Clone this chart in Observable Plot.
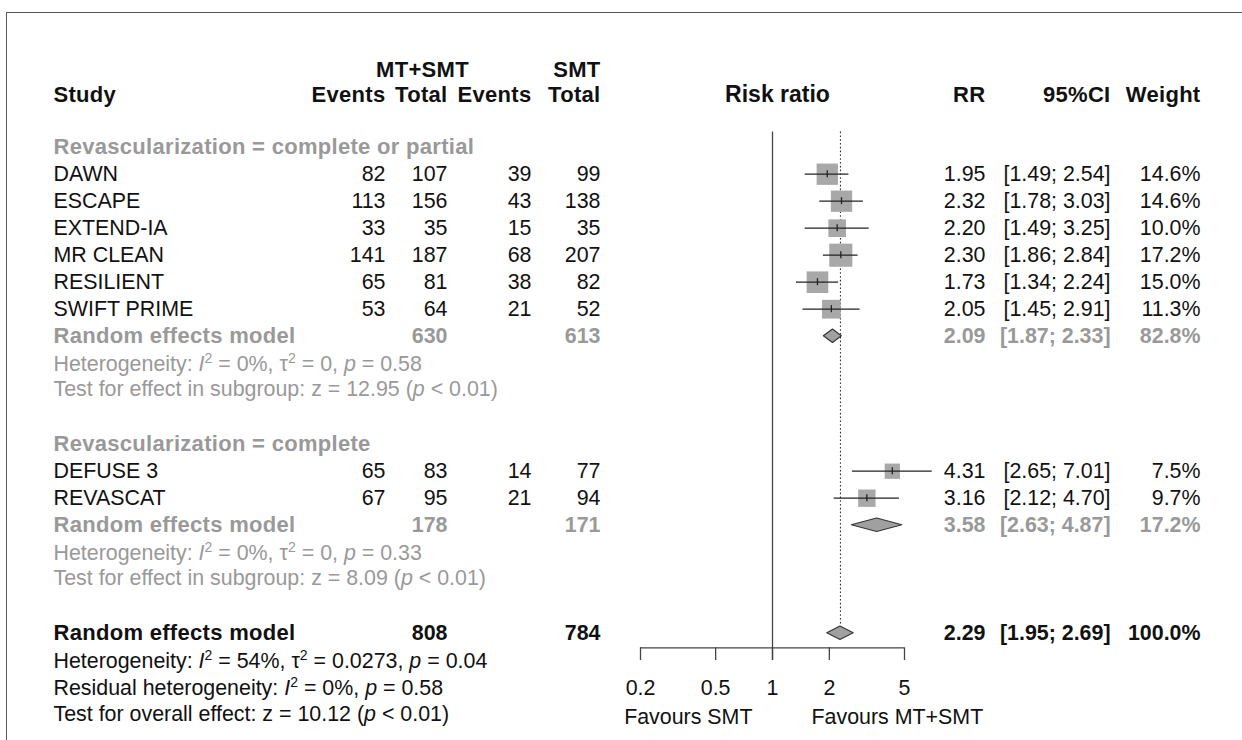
<!DOCTYPE html>
<html>
<head>
<meta charset="utf-8">
<script src="https://cdn.jsdelivr.net/npm/d3@7"></script>
<script src="https://cdn.jsdelivr.net/npm/@observablehq/plot@0.6"></script>
<style>
  html, body { margin: 0; padding: 0; background: #fff; }
  #chart { position: relative; width: 1242px; height: 740px; overflow: hidden; background: #fff; }
  #chart svg { position: absolute; left: 0; top: 0; }
  #chart g[font-weight="bold"][font-size="22"] text { letter-spacing: 0.3px; }
  #chart .box { position: absolute; left: 6px; top: 12px; right: -10px; bottom: -10px;
    border-left: 1.5px solid #5a5a5a; border-top: 1.5px solid #5a5a5a; pointer-events: none; }
</style>
</head>
<body>
<div id="chart"><div class="box"></div></div>
<script>
// ---- Study-level data ----
const studyNames = ["DAWN", "ESCAPE", "EXTEND-IA", "MR CLEAN", "RESILIENT", "SWIFT PRIME", "DEFUSE 3", "REVASCAT"];
const studyGroup = [0, 0, 0, 0, 0, 0, 1, 1];
const eventsMT = [82, 113, 33, 141, 65, 53, 65, 67];
const totalMT = [107, 156, 35, 187, 81, 64, 83, 95];
const eventsSMT = [39, 43, 15, 68, 38, 21, 14, 21];
const totalSMT = [99, 138, 35, 207, 82, 52, 77, 94];
const riskRatio = [1.95, 2.32, 2.20, 2.30, 1.73, 2.05, 4.31, 3.16];
const ciLower = [1.49, 1.78, 1.49, 1.86, 1.34, 1.45, 2.65, 2.12];
const ciUpper = [2.54, 3.03, 3.25, 2.84, 2.24, 2.91, 7.01, 4.70];
const weightPct = [14.6, 14.6, 10.0, 17.2, 15.0, 11.3, 7.5, 9.7];

// ---- Subgroup pooled estimates ----
const subgroupLabels = ["Revascularization = complete or partial", "Revascularization = complete"];
const subgroupTotalMT = [630, 178];
const subgroupTotalSMT = [613, 171];
const subgroupRR = [2.09, 3.58];
const subgroupLower = [1.87, 2.63];
const subgroupUpper = [2.33, 4.87];
const subgroupWeight = [82.8, 17.2];
const subgroupStats = [
  ["Heterogeneity: {I}^2 = 0%, τ^2 = 0, {p} = 0.58", "Test for effect in subgroup: z = 12.95 ({p} < 0.01)"],
  ["Heterogeneity: {I}^2 = 0%, τ^2 = 0, {p} = 0.33", "Test for effect in subgroup: z = 8.09 ({p} < 0.01)"]
];

// ---- Overall pooled estimate ----
const overallTotalMT = 808;
const overallTotalSMT = 784;
const overallRR = 2.29;
const overallLower = 1.95;
const overallUpper = 2.69;
const overallWeight = 100.0;
const overallStats = [
  "Heterogeneity: {I}^2 = 54%, τ^2 = 0.0273, {p} = 0.04",
  "Residual heterogeneity: {I}^2 = 0%, {p} = 0.58",
  "Test for overall effect: z = 10.12 ({p} < 0.01)"
];

// ---- Axis and labels ----
const axisTicks = [0.2, 0.5, 1, 2, 5];
const favoursLabels = ["Favours SMT", "Favours MT+SMT"];
const pooledLabel = "Random effects model";

// ---- Layout (rows are 27 px apart; row 0 is the first subgroup heading) ----
const ROW0 = 146.7, ROWH = 27, H = 740, W = 1242;
const col = {study: 53, evMT: 385, totMT: 447, evSMT: 531, totSMT: 600, rr: 985, ci: 1110, w: 1200};
const FS = 21.4, FSB = 22;
const GREY = "#999999", BLACK = "#111111";
const font = "'Liberation Sans', Arial, Helvetica, sans-serif";

const fmtRR = v => v.toFixed(2);
const fmtCI = (a, b) => `[${a.toFixed(2)}; ${b.toFixed(2)}]`;
const fmtW = v => `${v.toFixed(1)}%`;

const groupRows = [], studyRows = [], pooledRows = [], statRows = [];
let row = 0;
subgroupLabels.forEach((label, g) => {
  groupRows.push({row, label});
  row++;
  studyNames.forEach((name, i) => {
    if (studyGroup[i] !== g) return;
    studyRows.push({
      row, name, evMT: String(eventsMT[i]), totMT: String(totalMT[i]),
      evSMT: String(eventsSMT[i]), totSMT: String(totalSMT[i]),
      est: riskRatio[i], lo: ciLower[i], hi: ciUpper[i], weight: weightPct[i],
      rr: fmtRR(riskRatio[i]), ci: fmtCI(ciLower[i], ciUpper[i]), w: fmtW(weightPct[i])
    });
    row++;
  });
  pooledRows.push({
    row, group: g, name: pooledLabel, totMT: String(subgroupTotalMT[g]), totSMT: String(subgroupTotalSMT[g]),
    est: subgroupRR[g], lo: subgroupLower[g], hi: subgroupUpper[g],
    rr: fmtRR(subgroupRR[g]), ci: fmtCI(subgroupLower[g], subgroupUpper[g]), w: fmtW(subgroupWeight[g])
  });
  statRows.push({row: row + 1.05, text: subgroupStats[g][0], group: g});
  statRows.push({row: row + 1.95, text: subgroupStats[g][1], group: g});
  row += 4;
});
const overallRow = row;
pooledRows.push({
  row: overallRow, group: -1, name: pooledLabel, totMT: String(overallTotalMT), totSMT: String(overallTotalSMT),
  est: overallRR, lo: overallLower, hi: overallUpper,
  rr: fmtRR(overallRR), ci: fmtCI(overallLower, overallUpper), w: fmtW(overallWeight)
});
overallStats.forEach((text, k) => statRows.push({row: overallRow + [1.05, 2.05, 3.0][k], text, group: -1}));

const headerTopRow = -2.85, headerRow = -1.95;
const plotTopRow = -0.56;
const axisRow = 18.54, tickEndRow = 19.01, tickLabelRow = 20.04, favoursRow = 21.1;
const diamondHalf = 0.25;

// Diamond outlines for pooled estimates
const diamonds = pooledRows.flatMap((p, k) => [
  {id: k, y: p.row - diamondHalf, x1: p.est, x2: p.est},
  {id: k, y: p.row, x1: p.lo, x2: p.hi},
  {id: k, y: p.row + diamondHalf, x1: p.est, x2: p.est}
]);

// Left-anchored text column helper (dx is the pixel position of the column)
const column = (data, field, dx, anchor, extra = {}) =>
  Plot.text(data, {y: "row", text: field, frameAnchor: "left", dx, textAnchor: anchor,
    lineAnchor: "middle", fontSize: extra.fontWeight === "bold" ? FSB : FS, fill: BLACK, ...extra});

const subPooled = pooledRows.filter(d => d.group >= 0);
const allPooled = pooledRows.filter(d => d.group < 0);
const headers1 = [{row: headerTopRow}];
const headers2 = [{row: headerRow}];
const bold = {fontWeight: "bold"};

const tableMarks = [
  // headings
  column(headers1, () => "MT+SMT", 422, "middle", bold),
  column(headers1, () => "SMT", col.totSMT, "end", bold),
  column(headers2, () => "Study", col.study, "start", bold),
  column(headers2, () => "Events", col.evMT, "end", bold),
  column(headers2, () => "Total", col.totMT, "end", bold),
  column(headers2, () => "Events", col.evSMT, "end", bold),
  column(headers2, () => "Total", col.totSMT, "end", bold),
  column(headers2, () => "RR", col.rr, "end", bold),
  column(headers2, () => "95%CI", col.ci, "end", bold),
  column(headers2, () => "Weight", col.w, "end", bold),
  // subgroup headings
  column(groupRows, "label", col.study, "start", {fontWeight: "bold", fill: GREY}),
  // studies
  column(studyRows, "name", col.study, "start"),
  column(studyRows, "evMT", col.evMT, "end"),
  column(studyRows, "totMT", col.totMT, "end"),
  column(studyRows, "evSMT", col.evSMT, "end"),
  column(studyRows, "totSMT", col.totSMT, "end"),
  column(studyRows, "rr", col.rr, "end"),
  column(studyRows, "ci", col.ci, "end"),
  column(studyRows, "w", col.w, "end"),
];
for (const [data, fill] of [[subPooled, GREY], [allPooled, BLACK]]) {
  const label = {fontWeight: "bold", fill};
  const num = {fontWeight: "bold", fill, fontSize: FS};
  tableMarks.push(
    column(data, "name", col.study, "start", label),
    column(data, "totMT", col.totMT, "end", num),
    column(data, "totSMT", col.totSMT, "end", num),
    column(data, "rr", col.rr, "end", num),
    column(data, "ci", col.ci, "end", num),
    column(data, "w", col.w, "end", num)
  );
}
tableMarks.push(
  column(statRows.filter(d => d.group >= 0), "text", col.study, "start", {fill: GREY}),
  column(statRows.filter(d => d.group < 0), "text", col.study, "start", {fill: BLACK})
);

const chart = Plot.plot({
  width: W, height: H, margin: 0,
  x: {type: "log", domain: [axisTicks[0], axisTicks[axisTicks.length - 1]], range: [640, 904], axis: null},
  y: {domain: [(0 - ROW0) / ROWH, (H - ROW0) / ROWH], range: [0, H], axis: null},
  r: {type: "sqrt", domain: [0, 100], range: [0, 31.46]},
  style: {fontFamily: font, background: "transparent", color: BLACK},
  marks: [
    // line of no effect and pooled-effect reference line
    Plot.ruleX([1], {y1: plotTopRow, y2: tickEndRow, stroke: "#444", strokeWidth: 1.3}),
    Plot.ruleX([overallRR], {y1: plotTopRow, y2: overallRow - diamondHalf - 0.02, stroke: "#333",
      strokeWidth: 1.1, strokeDasharray: "1.6,2.2"}),
    // study squares sized by weight, confidence intervals, point ticks
    Plot.dot(studyRows, {x: "est", y: "row", r: "weight", symbol: "square", fill: "#a8a8a8"}),
    Plot.ruleY(studyRows, {y: "row", x1: "lo", x2: "hi", stroke: "#222", strokeWidth: 1.3}),
    Plot.ruleX(studyRows, {x: "est", y1: d => d.row - 0.13, y2: d => d.row + 0.13, stroke: "#222", strokeWidth: 1.3}),
    // pooled diamonds
    Plot.areaX(diamonds, {y: "y", x1: "x1", x2: "x2", z: "id", fill: "#a0a0a0", stroke: "#333", strokeWidth: 1.1}),
    // axis
    Plot.ruleY([axisRow], {x1: axisTicks[0], x2: axisTicks[axisTicks.length - 1], stroke: "#444", strokeWidth: 1.3}),
    Plot.ruleX(axisTicks, {x: d => d, y1: axisRow, y2: tickEndRow, stroke: "#444", strokeWidth: 1.3}),
    Plot.text(axisTicks, {x: d => d, y: tickLabelRow, text: d => String(d), fontSize: FS, fill: BLACK}),
    Plot.text([favoursLabels[0]], {x: 1, y: favoursRow, text: d => d, dx: -20, textAnchor: "end", fontSize: FS, fill: BLACK}),
    Plot.text([favoursLabels[1]], {x: 1, y: favoursRow, text: d => d, dx: 39, textAnchor: "start", fontSize: FS, fill: BLACK}),
    // plot heading
    Plot.text(["Risk ratio"], {x: 1, y: headerRow, text: d => d, dx: 5, fontSize: 23, fontWeight: "bold", fill: BLACK}),
    ...tableMarks
  ]
});

// Statistic lines: italic symbols ({...}) and superscripts (^n) become tspans
const SVGNS = "http://www.w3.org/2000/svg";
chart.querySelectorAll("text").forEach(t => {
  const s = t.textContent;
  if (!/[{^]/.test(s)) return;
  while (t.firstChild) t.removeChild(t.firstChild);
  const parts = s.split(/(\{[^}]+\}|\^\d)/).filter(p => p);
  let raised = false;
  for (const p of parts) {
    const ts = document.createElementNS(SVGNS, "tspan");
    if (p.startsWith("^")) {
      ts.textContent = p.slice(1);
      ts.setAttribute("font-size", "14");
      ts.setAttribute("dy", "-8");
      t.appendChild(ts);
      raised = true;
      continue;
    }
    if (p.startsWith("{")) {
      ts.textContent = p.slice(1, -1);
      ts.setAttribute("font-style", "italic");
    } else {
      ts.textContent = p;
    }
    if (raised) { ts.setAttribute("dy", "8"); raised = false; }
    t.appendChild(ts);
  }
});

document.getElementById("chart").prepend(chart);
</script>
</body>
</html>
